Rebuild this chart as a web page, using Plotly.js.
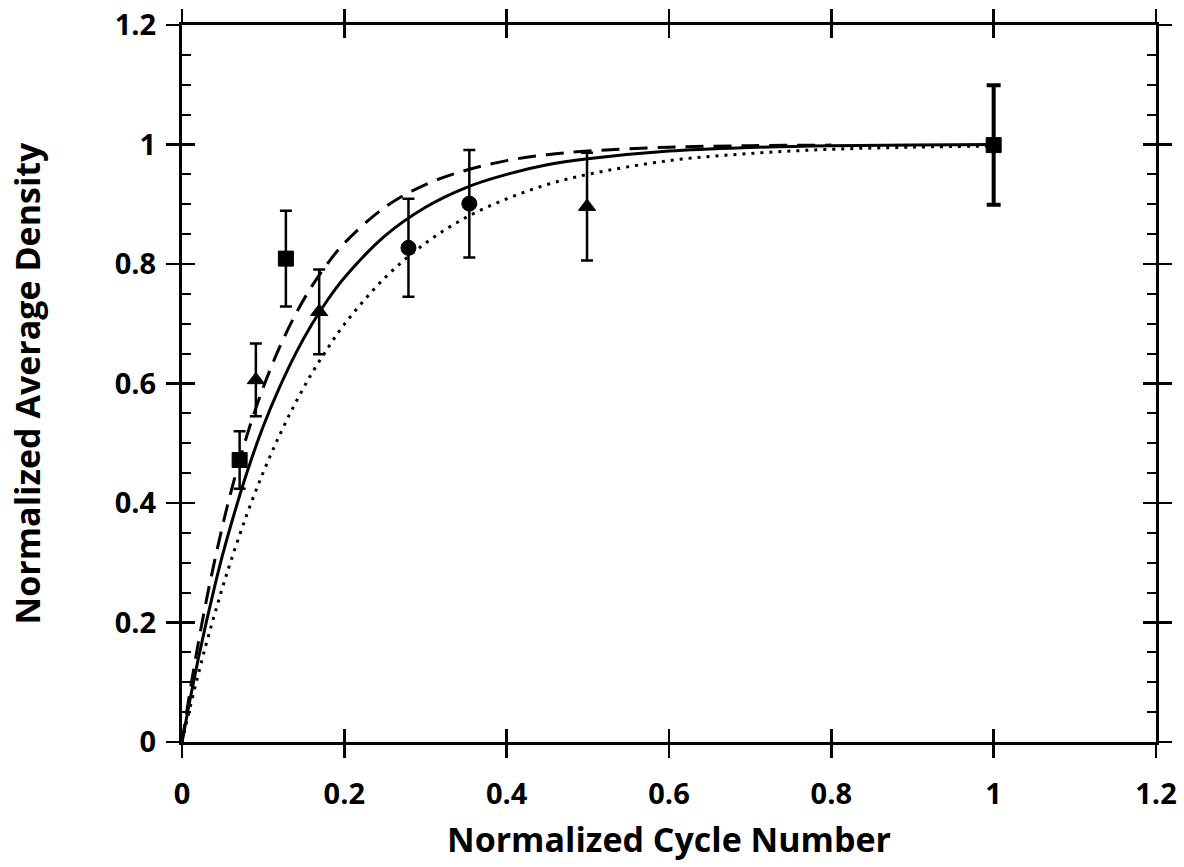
<!DOCTYPE html>
<html>
<head>
<meta charset="utf-8">
<script src="https://cdn.plot.ly/plotly-3.0.1.min.js"></script>
<style>html,body{margin:0;padding:0;background:#fff;}#chart{width:1184px;height:867px;}</style>
</head>
<body>
<div id="chart"></div>
<script>
// Fitted curves
const curveX      = [0, 0.01, 0.02, 0.03, 0.04, 0.05, 0.06, 0.08, 0.10, 0.12, 0.14, 0.16, 0.18, 0.20, 0.25, 0.30, 0.35, 0.40, 0.45, 0.50, 0.60, 0.70, 0.80, 0.90, 1.00];
const solidY      = [0, 0.072, 0.139, 0.201, 0.259, 0.313, 0.362, 0.451, 0.528, 0.593, 0.650, 0.699, 0.741, 0.777, 0.847, 0.895, 0.928, 0.950, 0.966, 0.976, 0.989, 0.995, 0.998, 0.999, 1.000];
const dottedY     = [0, 0.058, 0.113, 0.165, 0.213, 0.259, 0.302, 0.381, 0.451, 0.513, 0.568, 0.617, 0.660, 0.699, 0.777, 0.835, 0.878, 0.909, 0.933, 0.950, 0.973, 0.985, 0.992, 0.9955, 0.9975];
const dashedX     = [0, 0.01, 0.02, 0.03, 0.04, 0.05, 0.06, 0.08, 0.10, 0.12, 0.14, 0.16, 0.18, 0.20, 0.25, 0.30, 0.35, 0.40, 0.45, 0.50, 0.60, 0.70, 0.80];
const dashedY     = [0, 0.086, 0.165, 0.237, 0.302, 0.362, 0.417, 0.513, 0.593, 0.660, 0.716, 0.763, 0.802, 0.835, 0.895, 0.933, 0.957, 0.973, 0.983, 0.989, 0.9955, 0.998, 0.999];

// Measured data points
const squareX     = [0.071, 0.128, 1.000];
const squareY     = [0.472, 0.809, 0.999];
const squareErr   = [0.048, 0.080, 0.100];
const triangleX   = [0.091, 0.169, 0.499];
const triangleY   = [0.606, 0.720, 0.896];
const triangleErr = [0.061, 0.071, 0.090];
const circleX     = [0.279, 0.354];
const circleY     = [0.827, 0.901];
const circleErr   = [0.082, 0.090];

const xTicks = [0, 0.2, 0.4, 0.6, 0.8, 1, 1.2];
const yTicks = [0, 0.2, 0.4, 0.6, 0.8, 1, 1.2];

const FONT = '"Open Sans", Lato, sans-serif';
const black = '#000';

function pts(x, y, e, symbol, size, thick, capw) {
  return {
    type: 'scatter', mode: 'markers', x: x, y: y, showlegend: false,
    marker: {symbol: symbol, size: size, color: black, line: {color: black, width: 1}},
    error_y: {type: 'data', array: e, visible: true, color: black, thickness: thick, width: capw}
  };
}

const traces = [
  {type: 'scatter', mode: 'lines', x: curveX, y: dottedY, line: {color: black, width: 3, dash: '3px,6px', shape: 'spline'}, showlegend: false},
  {type: 'scatter', mode: 'lines', x: dashedX, y: dashedY, line: {color: black, width: 3, dash: '18px,10px', shape: 'spline'}, showlegend: false},
  {type: 'scatter', mode: 'lines', x: curveX, y: solidY, line: {color: black, width: 3, shape: 'spline'}, showlegend: false},
  pts(squareX.slice(0, 2), squareY.slice(0, 2), squareErr.slice(0, 2), 'square', 15, 2.5, 6),
  pts(squareX.slice(2), squareY.slice(2), squareErr.slice(2), 'square', 15, 4, 7),
  pts(triangleX, triangleY, triangleErr, 'triangle-up', 15, 2.5, 6),
  pts(circleX, circleY, circleErr, 'circle', 15, 2.5, 6),
  {type: 'scatter', mode: 'markers', x: [0], y: [0], xaxis: 'x2', yaxis: 'y2', marker: {opacity: 0}, hoverinfo: 'skip', showlegend: false}
];

const axBase = {
  range: [0, 1.2], showgrid: false, zeroline: false, showline: true, linewidth: 3, linecolor: black,
  ticklen: 13, tickwidth: 2.5, tickcolor: black, mirror: 'ticks', fixedrange: true
};

const layout = {
  width: 1184, height: 867,
  margin: {l: 182, r: 28, t: 25, b: 125},
  paper_bgcolor: '#fff', plot_bgcolor: '#fff',
  font: {family: FONT, color: black, size: 29, weight: 700},
  showlegend: false,
  xaxis: Object.assign({}, axBase, {
    tickmode: 'array', tickvals: xTicks, ticktext: xTicks.map(String), ticks: 'outside',
    tickfont: {family: FONT, size: 29, weight: 700, color: black}, ticklabelstandoff: 11,
    title: {text: 'Normalized Cycle Number', font: {family: FONT, size: 34, weight: 700, color: black}, standoff: 18}
  }),
  yaxis: Object.assign({}, axBase, {
    tickmode: 'array', tickvals: yTicks, ticktext: yTicks.map(String), ticks: 'outside',
    tickfont: {family: FONT, size: 29, weight: 700, color: black}, ticklabelstandoff: 4,
    title: {text: 'Normalized Average Density', font: {family: FONT, size: 34, weight: 700, color: black}, standoff: 64}
  }),
  xaxis2: Object.assign({}, axBase, {
    overlaying: 'x', anchor: 'y2', tickmode: 'array', tickvals: xTicks, ticks: 'inside', showticklabels: false
  }),
  yaxis2: Object.assign({}, axBase, {
    overlaying: 'y', anchor: 'x2', tickmode: 'array', tickvals: yTicks, ticks: 'inside', showticklabels: false,
    minor: {ticks: 'inside', dtick: 0.05, ticklen: 9, tickwidth: 2, tickcolor: black}
  })
};

Plotly.newPlot('chart', traces, layout, {displayModeBar: false, staticPlot: true});
</script>
</body>
</html>
